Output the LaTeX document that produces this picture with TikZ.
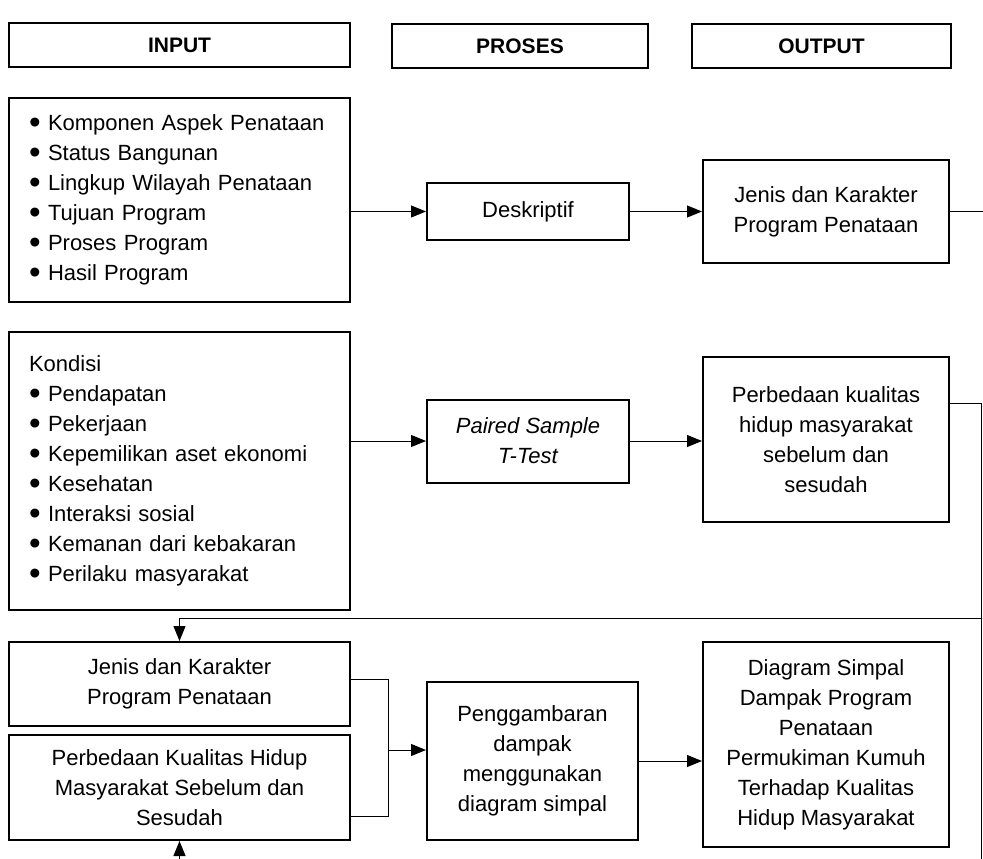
\documentclass[tikz,border=0pt]{standalone}
\usepackage{fontspec}
\setmainfont{Liberation Sans}
\usetikzlibrary{arrows.meta, positioning, calc}
\newcommand{\itm}{\makebox[19pt][l]{\raisebox{-0.12em}{\scalebox{1.5}{\textbullet}}}}

\begin{document}
\begin{tikzpicture}[x=1pt, y=-1pt, >={Triangle[length=15pt, width=12pt]},
  box/.style={draw, line width=2pt, inner sep=0pt, align=center,
    font=\fontsize{22}{30}\selectfont},
  head/.style={box, minimum height=44, font=\fontsize{21}{25}\selectfont\bfseries},
  list/.style={box, align=left, text width=301pt},
  link/.style={line width=1pt}]
  \useasboundingbox (0,0) rectangle (983,859);
  % Judul kolom
  \node[head, minimum width=341] (hin) at (179.5,45) {INPUT};
  \node[head, minimum width=256] (hpro) at (520,46) {PROSES};
  \node[head, minimum width=259] (hout) at (821.5,46) {OUTPUT};
  % Baris 1
  \node[list, minimum width=341, minimum height=204] (in1) at (179.5,200)
    {\itm Komponen Aspek Penataan\\ \itm Status Bangunan\\ \itm Lingkup Wilayah Penataan\\
     \itm Tujuan Program\\ \itm Proses Program\\ \itm Hasil Program};
  \node[box, minimum width=202, minimum height=57] (desk) at (528,211.5) {Deskriptif};
  \node[box, minimum width=246, minimum height=103] (jen1) at (826,211.5)
    {Jenis dan Karakter\\Program Penataan};
  % Baris 2
  \node[list, minimum width=341, minimum height=278] (in2) at (179.5,471)
    {Kondisi\\ \itm Pendapatan\\ \itm Pekerjaan\\ \itm Kepemilikan aset ekonomi\\
     \itm Kesehatan\\ \itm Interaksi sosial\\ \itm Kemanan dari kebakaran\\ \itm Perilaku masyarakat};
  \node[box, minimum width=202, minimum height=83, font=\fontsize{22}{30}\selectfont\itshape]
    (pst) at (528,441) {Paired Sample\\T-Test};
  \node[box, minimum width=246, minimum height=165] (per1) at (826,439.5)
    {Perbedaan kualitas\\hidup masyarakat\\sebelum dan\\sesudah};
  % Baris 3
  \node[box, minimum width=341, minimum height=84] (jen2) at (179.5,684)
    {Jenis dan Karakter\\Program Penataan};
  \node[box, minimum width=341, minimum height=105] (per2) at (179.5,787.5)
    {Perbedaan Kualitas Hidup\\Masyarakat Sebelum dan\\Sesudah};
  \node[box, minimum width=211, minimum height=158] (pg) at (532.5,761)
    {Penggambaran\\dampak\\menggunakan\\diagram simpal};
  \node[box, minimum width=246, minimum height=205] (ds) at (826,744.5)
    {Diagram Simpal\\Dampak Program\\Penataan\\Permukiman Kumuh\\Terhadap Kualitas\\Hidup Masyarakat};
  % Titik bantu
  \coordinate (kanan1) at (983,211.5);
  \coordinate (r1) at (981,403);
  \coordinate (r2) at (981,618);
  \coordinate (rb) at (981,859);
  \coordinate (bb) at (179.5,859);
  \coordinate (ka) at (388,679);
  \coordinate (kb) at (388,816);
  \coordinate (kc) at (388,750);
  % Panah
  \draw[link, ->] (desk.west -| in1.east) -- (desk.west);
  \draw[link, ->] (desk.east) -- (jen1.west);
  \draw[link] (jen1.east) -- (kanan1);
  \draw[link, ->] (pst.west -| in2.east) -- (pst.west);
  \draw[link, ->] (pst.east) -- (pst.east -| per1.west);
  \draw[link] (r1 -| per1.east) -- (r1) -- (rb);
  \draw[link, ->] (r2) -| (jen2.north);
  \draw[link, ->] (bb) -- (per2.south);
  \draw[link] (ka -| jen2.east) -- (ka) -- (kb) -- (kb -| per2.east);
  \draw[link, ->] (kc) -- (kc -| pg.west);
  \draw[link, ->] (pg.east) -- (pg.east -| ds.west);
\end{tikzpicture}
\end{document}
